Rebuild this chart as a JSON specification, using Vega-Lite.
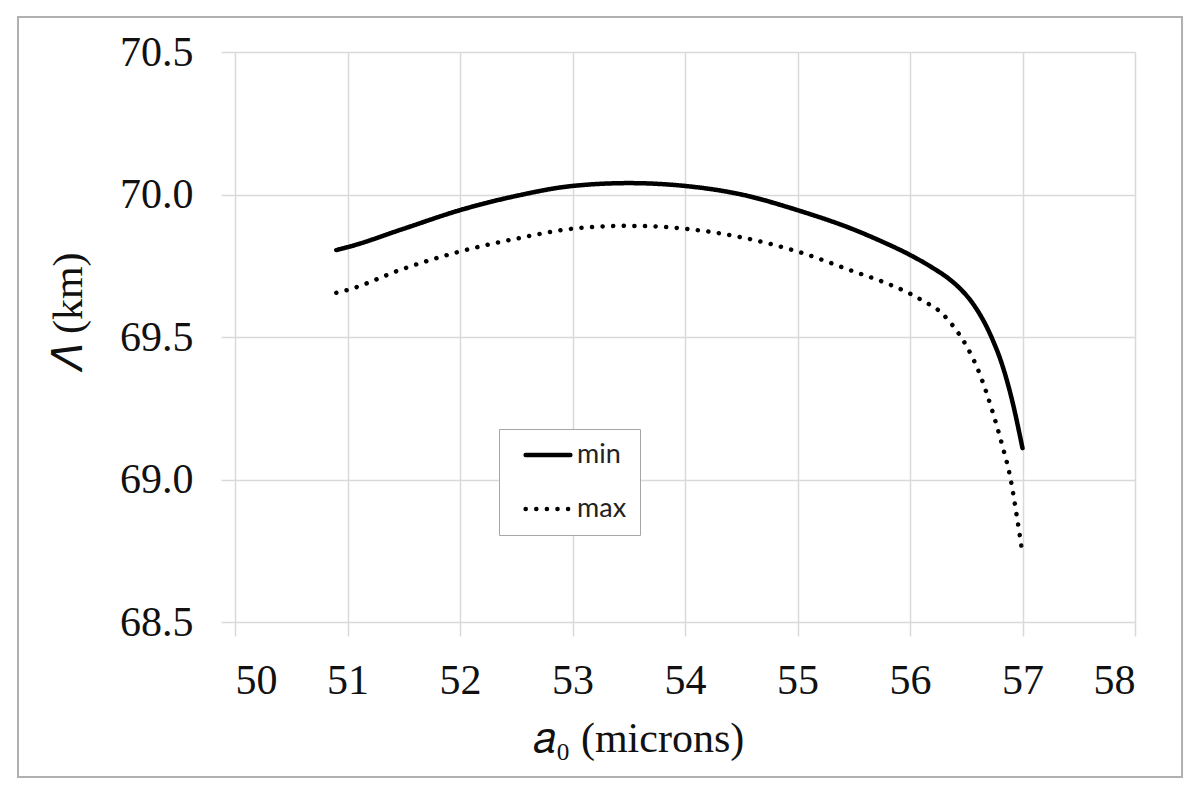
{
  "$schema": "https://vega.github.io/schema/vega-lite/v6.json",
  "width": 900,
  "height": 570,
  "autosize": "none",
  "padding": {"left": 235, "top": 52, "right": 65, "bottom": 173},
  "background": "white",
  "config": {
    "view": {"stroke": null},
    "axis": {
      "labelFont": "Liberation Serif",
      "labelFontSize": 42,
      "labelColor": "#111111",
      "titleFont": "Liberation Serif",
      "titleFontSize": 42,
      "titleFontWeight": "normal",
      "titleColor": "#111111",
      "gridColor": "#d9d9d9",
      "gridWidth": 1.5,
      "tickColor": "#d9d9d9",
      "tickWidth": 1.5,
      "tickSize": 14,
      "domain": false
    }
  },
  "datasets": {
    "curves": [
      {"a0": 50.9, "lambda": 69.805, "series": "min"},
      {"a0": 51.0, "lambda": 69.815, "series": "min"},
      {"a0": 51.5, "lambda": 69.88, "series": "min"},
      {"a0": 52.0, "lambda": 69.945, "series": "min"},
      {"a0": 52.5, "lambda": 69.995, "series": "min"},
      {"a0": 53.0, "lambda": 70.03, "series": "min"},
      {"a0": 53.5, "lambda": 70.04, "series": "min"},
      {"a0": 54.0, "lambda": 70.03, "series": "min"},
      {"a0": 54.5, "lambda": 70.0, "series": "min"},
      {"a0": 55.0, "lambda": 69.945, "series": "min"},
      {"a0": 55.5, "lambda": 69.877, "series": "min"},
      {"a0": 55.75, "lambda": 69.835, "series": "min"},
      {"a0": 56.0, "lambda": 69.788, "series": "min"},
      {"a0": 56.2, "lambda": 69.743, "series": "min"},
      {"a0": 56.35, "lambda": 69.703, "series": "min"},
      {"a0": 56.45, "lambda": 69.668, "series": "min"},
      {"a0": 56.55, "lambda": 69.622, "series": "min"},
      {"a0": 56.62, "lambda": 69.58, "series": "min"},
      {"a0": 56.68, "lambda": 69.537, "series": "min"},
      {"a0": 56.74, "lambda": 69.485, "series": "min"},
      {"a0": 56.8, "lambda": 69.425, "series": "min"},
      {"a0": 56.9, "lambda": 69.29, "series": "min"},
      {"a0": 57.0, "lambda": 69.11, "series": "min"},
      {"a0": 50.9, "lambda": 69.655, "series": "max"},
      {"a0": 51.0, "lambda": 69.665, "series": "max"},
      {"a0": 51.5, "lambda": 69.74, "series": "max"},
      {"a0": 52.0, "lambda": 69.80, "series": "max"},
      {"a0": 52.5, "lambda": 69.845, "series": "max"},
      {"a0": 53.0, "lambda": 69.88, "series": "max"},
      {"a0": 53.5, "lambda": 69.89, "series": "max"},
      {"a0": 54.0, "lambda": 69.88, "series": "max"},
      {"a0": 54.5, "lambda": 69.85, "series": "max"},
      {"a0": 55.0, "lambda": 69.80, "series": "max"},
      {"a0": 55.5, "lambda": 69.73, "series": "max"},
      {"a0": 55.77, "lambda": 69.692, "series": "max"},
      {"a0": 56.0, "lambda": 69.652, "series": "max"},
      {"a0": 56.11, "lambda": 69.628, "series": "max"},
      {"a0": 56.27, "lambda": 69.588, "series": "max"},
      {"a0": 56.4, "lambda": 69.53, "series": "max"},
      {"a0": 56.5, "lambda": 69.47, "series": "max"},
      {"a0": 56.62, "lambda": 69.37, "series": "max"},
      {"a0": 56.74, "lambda": 69.23, "series": "max"},
      {"a0": 56.82, "lambda": 69.12, "series": "max"},
      {"a0": 56.89, "lambda": 69.01, "series": "max"},
      {"a0": 56.95, "lambda": 68.87, "series": "max"},
      {"a0": 57.0, "lambda": 68.74, "series": "max"}
    ],
    "frame": [
      {"x1": 48.071, "x2": 58.418, "y1": 70.623, "y2": 67.956}
    ]
  },
  "layer": [
    {
      "data": {"name": "frame"},
      "mark": {"type": "rect", "fill": null, "stroke": "#b0b0b0", "strokeWidth": 2, "clip": false},
      "encoding": {
        "x": {"field": "x1", "type": "quantitative", "scale": {"domain": [50, 58]}},
        "x2": {"field": "x2"},
        "y": {"field": "y1", "type": "quantitative", "scale": {"domain": [68.5, 70.5]}},
        "y2": {"field": "y2"}
      }
    },
    {
      "data": {"name": "curves"},
      "mark": {"type": "line", "color": "black", "strokeWidth": 4.5, "strokeCap": "round", "interpolate": "monotone"},
      "encoding": {
        "x": {
          "field": "a0",
          "type": "quantitative",
          "scale": {"domain": [50, 58], "nice": false, "zero": false},
          "axis": {
            "values": [50, 51, 52, 53, 54, 55, 56, 57, 58],
            "format": "d",
            "labelPadding": 57,
            "labelBaseline": "alphabetic",
            "title": "𝑎₀ (microns)",
            "titleX": 403,
            "titleY": 129,
            "titleBaseline": "alphabetic"
          }
        },
        "y": {
          "field": "lambda",
          "type": "quantitative",
          "scale": {"domain": [68.5, 70.5], "nice": false, "zero": false},
          "axis": {
            "values": [68.5, 69.0, 69.5, 70.0, 70.5],
            "format": ".1f",
            "labelPadding": 28,
            "title": "𝛬 (km)",
            "titleX": -145,
            "titleY": 260,
            "titleAngle": 270,
            "titleBaseline": "bottom"
          }
        },
        "strokeDash": {
          "field": "series",
          "type": "nominal",
          "sort": ["min", "max"],
          "scale": {"domain": ["min", "max"], "range": [[1, 0], [0.1, 10.5]]},
          "legend": {
            "title": null,
            "orient": "none",
            "legendX": 264,
            "legendY": 377,
            "direction": "vertical",
            "strokeColor": "#a6a6a6",
            "fillColor": "white",
            "padding": 13,
            "symbolType": "stroke",
            "symbolSize": 2000,
            "symbolStrokeWidth": 4.5,
            "symbolStrokeColor": "black",
            "symbolOffset": 11,
            "clipHeight": 26,
            "rowPadding": 27,
            "labelFont": "Lato",
            "labelFontSize": 27,
            "labelColor": "#222222",
            "labelOffset": 4,
            "encode": {
              "symbols": {"update": {"strokeCap": {"value": "round"}}}
            }
          }
        }
      }
    }
  ]
}
